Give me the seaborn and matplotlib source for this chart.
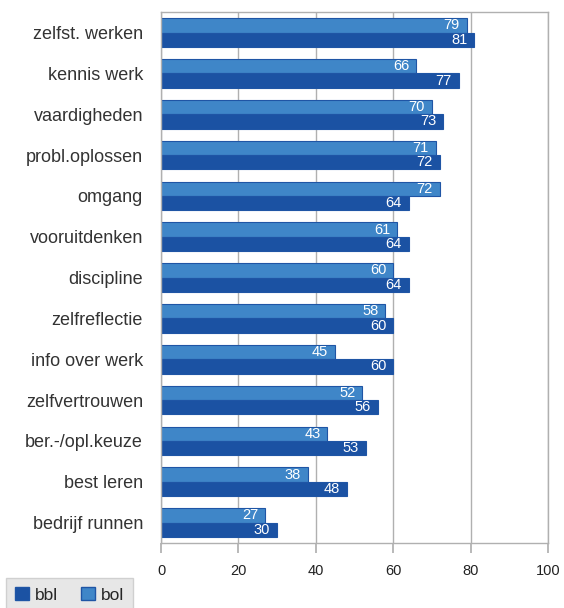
import pandas as pd
import matplotlib.pyplot as plt
import seaborn as sns
from matplotlib.patches import Patch

# ── Data ──────────────────────────────────────────────────────────────────────
categories = ["zelfst. werken", "kennis werk", "vaardigheden", "probl.oplossen",
              "omgang", "vooruitdenken", "discipline", "zelfreflectie",
              "info over werk", "zelfvertrouwen", "ber.-/opl.keuze",
              "best leren", "bedrijf runnen"]
bol = [79, 66, 70, 71, 72, 61, 60, 58, 45, 52, 43, 38, 27]
bbl = [81, 77, 73, 72, 64, 64, 64, 60, 60, 56, 53, 48, 30]

df = pd.DataFrame({
    "categorie": categories * 2,
    "waarde": bol + bbl,
    "groep": ["bol"] * len(bol) + ["bbl"] * len(bbl),
})

colors = {"bol": "#3F86C8", "bbl": "#1B52A3"}
edge = "#1F55A5"

sns.set_theme(style="white")
plt.rcParams["font.family"] = ["Liberation Sans", "DejaVu Sans"]

fig = plt.figure(figsize=(5.64, 6.08), dpi=100)
ax = fig.add_axes([0.2855, 0.107, 0.686, 0.873])

sns.barplot(data=df, y="categorie", x="waarde", hue="groep",
            hue_order=["bol", "bbl"], palette=colors, order=categories,
            width=0.7, edgecolor=edge, linewidth=0.8, saturation=1,
            legend=False, ax=ax)

# value labels inside the bars, right aligned at the bar end
for cont in ax.containers:
    for t in ax.bar_label(cont, fmt="%d", padding=-5, color="white",
                          fontsize=10.5):
        t.set_ha("right")

ax.set_xlim(0, 100)
ax.set_ylim(len(categories) - 0.5, -0.5)
ax.set_xticks(range(0, 101, 20))
ax.xaxis.grid(True, color="#b0b0b0", linewidth=1)
ax.set_axisbelow(True)
for s in ax.spines.values():
    s.set_color("#b0b0b0")
    s.set_linewidth(1)
ax.tick_params(axis="x", bottom=True, length=7, color="#b0b0b0",
               labelsize=10.5, pad=8, labelcolor="#222222")
ax.tick_params(axis="y", left=False, length=0, labelsize=13, pad=13,
               labelcolor="#333333")
ax.set_xlabel("")
ax.set_ylabel("")

handles = [Patch(facecolor=colors["bbl"], edgecolor=edge, label="bbl"),
           Patch(facecolor=colors["bol"], edgecolor=edge, label="bol")]
leg = fig.legend(handles=handles, ncol=2, loc="lower left",
                 bbox_to_anchor=(-0.004, -0.02), frameon=True, fontsize=12.5,
                 handlelength=0.8, handleheight=0.8, handletextpad=0.35,
                 columnspacing=1.3, borderpad=0.5, fancybox=False)
leg.get_frame().set_facecolor("#e2e2e2")
leg.get_frame().set_edgecolor("#c8c8c8")

fig.savefig("out.png", dpi=100)
